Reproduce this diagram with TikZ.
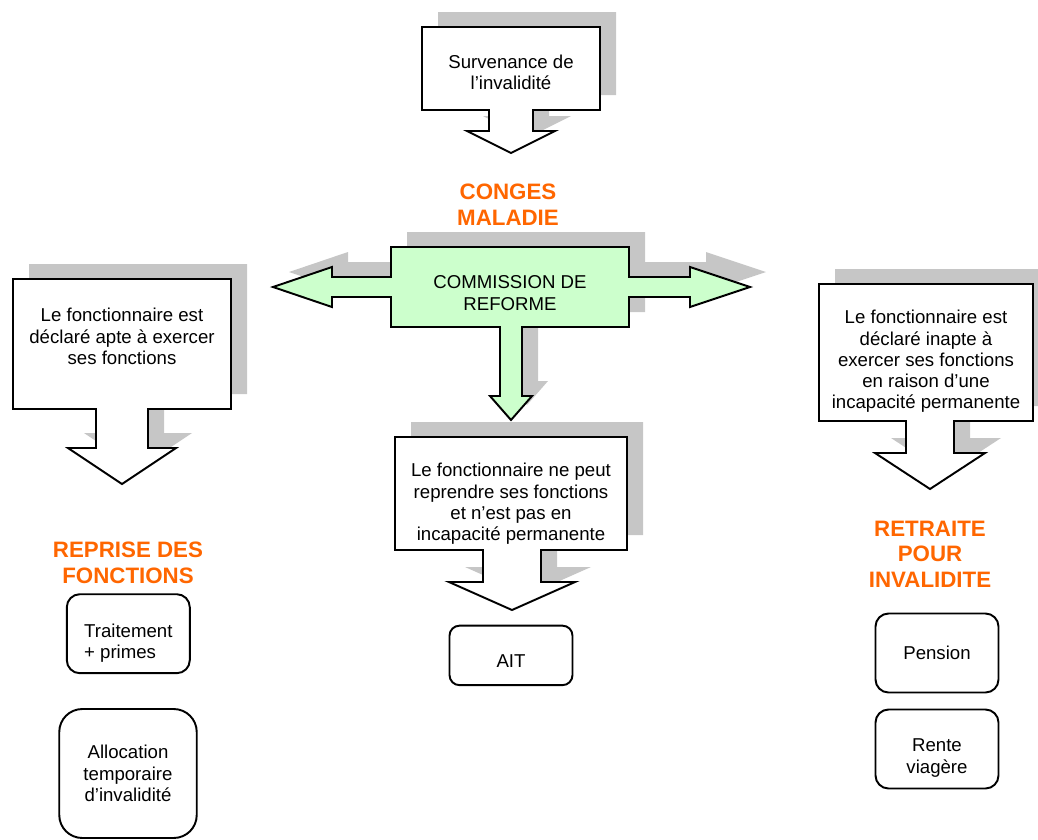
\documentclass[tikz,border=0pt]{standalone}
\usepackage{fontspec}
\setmainfont{Liberation Sans}
\definecolor{titleorange}{HTML}{FF6600}
\definecolor{boxgreen}{HTML}{CCFFCC}
\newcommand{\calloutpath}[9]{(#1,#3) -- (#2,#3) -- (#2,#4) -- ({#9+#5},#4) -- ({#9+#5},#6) -- ({#9+#7},#6) -- (#9,#8) -- ({#9-#7},#6) -- ({#9-#5},#6) -- ({#9-#5},#4) -- (#1,#4) -- cycle}
\newcommand{\commissionpath}{(391,247) -- (629,247) -- (629,277) -- (690,277) -- (690,267) -- (750,287) -- (690,307) -- (690,297) -- (629,297) -- (629,327) -- (522,327) -- (522,396) -- (532,396) -- (511,420) -- (490,396) -- (500,396) -- (500,327) -- (391,327) -- (391,297) -- (332,297) -- (332,307) -- (273,287) -- (332,267) -- (332,277) -- (391,277) -- cycle}

\begin{document}
\begin{tikzpicture}[
        x=0.02cm, y=-0.02cm,
        line width=1.1pt,
        dropshade/.style = {fill=gray!45, draw=none, shift={(16,-15)}},
        callbox/.style = {draw=black, fill=white},
        greenbox/.style = {draw=black, fill=boxgreen},
        txt/.style = {align=center, inner sep=0pt, font=\fontsize{10.6}{12.1}\selectfont},
        heading/.style = {align=center, inner sep=0pt, text=titleorange, font=\fontsize{12.7}{14.5}\selectfont\bfseries},
        result/.style = {draw, rounded corners=0.26cm, align=center, inner sep=0pt, minimum width=2.46cm, minimum height=1.58cm, font=\fontsize{10.6}{12.1}\selectfont}
    ]
    \useasboundingbox (0,0) rectangle (1038,839);
    \clip (0,0) rectangle (1038,839);

    \fill[dropshade] \calloutpath{422}{600}{27}{110}{22}{131}{44}{153}{511};
    \fill[dropshade] \commissionpath;
    \fill[dropshade] \calloutpath{13}{231}{279}{409}{26}{448}{54}{484}{122};
    \fill[dropshade] \calloutpath{819}{1033}{284}{421}{24}{453}{55}{489}{930};
    \fill[dropshade] \calloutpath{395}{627}{437}{550}{29}{582}{63}{610}{512};

    \draw[callbox] \calloutpath{422}{600}{27}{110}{22}{131}{44}{153}{511};
    \draw[greenbox] \commissionpath;
    \draw[callbox] \calloutpath{13}{231}{279}{409}{26}{448}{54}{484}{122};
    \draw[callbox] \calloutpath{819}{1033}{284}{421}{24}{453}{55}{489}{930};
    \draw[callbox] \calloutpath{395}{627}{437}{550}{29}{582}{63}{610}{512};

    \node[txt] (survenance) at (511,72.5) {Survenance de\\l’invalidité};
    \node[heading] (conges) at (508,204.5) {CONGES\\MALADIE};
    \node[txt] (commission) at (510,293) {COMMISSION DE\\REFORME};
    \node[txt] (apte) at (122,336.5) {Le fonctionnaire est\\déclaré apte à exercer\\ses fonctions};
    \node[txt] (inapte) at (926,361.5) {Le fonctionnaire est\\déclaré inapte à\\exercer ses fonctions\\en raison d’une\\incapacité permanente};
    \node[txt] (nonreprise) at (511,504) {Le fonctionnaire ne peut\\reprendre ses fonctions\\et n’est pas en\\incapacité permanente};

    \node[heading] (reprise) at (128,563) {REPRISE DES\\FONCTIONS};
    \node[heading] (retraite) at (930,554) {RETRAITE\\POUR\\INVALIDITE};

    \node[result] (traitement) at (128.3,633.7) {};
    \node[txt, align=left] (traitementtext) at (128.3,643.5) {Traitement\\+ primes};
    \node[result, minimum width=2.75cm, minimum height=2.58cm, rounded corners=0.46cm] (allocation) at (128,773.5) {Allocation\\temporaire\\d’invalidité};
    \node[result, minimum height=1.19cm, rounded corners=0.2cm] (ait) at (511,655.4) {};
    \node[txt] (aittext) at (511,661) {AIT};
    \node[result] (pension) at (937,653) {Pension};
    \node[result] (rente) at (937,749) {};
    \node[txt] (rentetext) at (937,758) {Rente\\viagère};
\end{tikzpicture}
\end{document}
